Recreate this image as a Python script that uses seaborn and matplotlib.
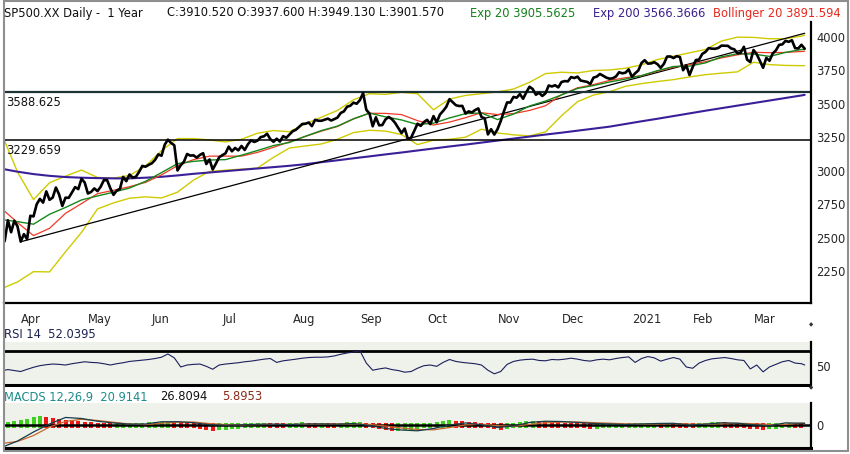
import numpy as np
import pandas as pd
import matplotlib
matplotlib.use("Agg")
import matplotlib.pyplot as plt
import seaborn as sns
from matplotlib.patches import Rectangle

sns.set_style("white")
plt.rcParams['font.family'] = ['DejaVu Sans']
plt.rcParams['font.size'] = 8

# ---------------- data ----------------
first_day, last_day = '2020-03-24', '2021-03-23'
market_holidays = ['2020-04-10', '2020-05-25', '2020-07-03', '2020-09-07', '2020-11-26',
                   '2020-12-25', '2021-01-01', '2021-01-18', '2021-02-15']

# daily closes, one per trading day
close = [
    2447, 2476, 2630, 2541, 2627, 2585,
    2471, 2527, 2489, 2664, 2659, 2750, 2790, 2762, 2846, 2783, 2800, 2875, 2823, 2737,
    2799, 2798, 2837, 2878, 2863, 2940, 2912,
    2830, 2842, 2868, 2848, 2881, 2930, 2930, 2870, 2820, 2852, 2864, 2954, 2922, 2972,
    2949, 2955, 2992, 3036, 3030, 3044,
    3056, 3081, 3122, 3112, 3194, 3232, 3207, 3190, 3002, 3041, 3067, 3125, 3113, 3115,
    3098, 3118, 3131, 3050, 3084, 3009, 3053, 3100,
    3116, 3130, 3180, 3145, 3170, 3152, 3185, 3155, 3197, 3227, 3215, 3225, 3251, 3257,
    3276, 3236, 3216, 3239, 3218, 3258, 3246, 3271,
    3295, 3306, 3327, 3349, 3351, 3360, 3333, 3380, 3373, 3373, 3381, 3389, 3375, 3385,
    3397, 3431, 3443, 3478, 3485, 3508, 3500,
    3527, 3580, 3455, 3427, 3332, 3399, 3339, 3341, 3383, 3401, 3385, 3357, 3319, 3281,
    3315, 3237, 3247, 3298, 3351, 3335, 3363,
    3380, 3348, 3408, 3361, 3419, 3446, 3477, 3534, 3512, 3489, 3483, 3484, 3427, 3443,
    3435, 3453, 3465, 3401, 3391, 3271, 3310, 3270,
    3310, 3370, 3443, 3510, 3509, 3551, 3545, 3572, 3537, 3585, 3627, 3610, 3567, 3582,
    3558, 3578, 3636, 3629, 3638, 3622,
    3662, 3669, 3667, 3699, 3692, 3702, 3673, 3668, 3663, 3647, 3695, 3702, 3722, 3709,
    3695, 3687, 3690, 3703, 3735, 3727, 3732, 3756,
    3701, 3727, 3748, 3804, 3825, 3799, 3801, 3810, 3795, 3768, 3798, 3852, 3853, 3841,
    3855, 3849, 3750, 3787, 3714,
    3774, 3826, 3830, 3872, 3887, 3915, 3911, 3910, 3916, 3934, 3933, 3932, 3913, 3906,
    3876, 3881, 3925, 3829, 3811,
    3901, 3870, 3820, 3768, 3842, 3821, 3875, 3898, 3939, 3943, 3969, 3962, 3974, 3915,
    3913, 3940, 3910.52,
]
last_open, last_high, last_low = 3937.600, 3949.130, 3901.570

# indicator lines, read every 5th trading day plus the last day
ema20 = [2636, 2620, 2601, 2675, 2726, 2782, 2812, 2840, 2871, 2921, 2986, 3053, 3070,
         3080, 3083, 3116, 3151, 3188, 3211, 3258, 3300, 3333, 3388, 3430, 3402, 3379,
         3345, 3355, 3394, 3426, 3431, 3382, 3423, 3483, 3520, 3566, 3614, 3636, 3662,
         3684, 3710, 3747, 3778, 3781, 3805, 3850, 3873, 3871, 3853, 3883, 3905, 3905.5625]
sma20 = [2719, 2613, 2516, 2570, 2682, 2755, 2829, 2854, 2881, 2913, 2969, 3038, 3083,
         3109, 3109, 3109, 3137, 3175, 3216, 3256, 3296, 3330, 3386, 3429, 3428, 3419,
         3374, 3341, 3363, 3396, 3433, 3419, 3426, 3450, 3485, 3567, 3619, 3643, 3674,
         3694, 3709, 3743, 3773, 3792, 3814, 3842, 3865, 3884, 3881, 3883, 3890, 3891.594]
boll_up = [3280, 2990, 2785, 2910, 2960, 3005, 2950, 2945, 2965, 3035, 3150, 3240, 3240,
           3230, 3215, 3235, 3280, 3300, 3291, 3350, 3400, 3450, 3530, 3575, 3570, 3585,
           3575, 3455, 3535, 3562, 3575, 3588, 3610, 3660, 3725, 3735, 3730, 3748, 3752,
           3765, 3790, 3830, 3855, 3880, 3905, 3968, 3997, 3995, 3985, 3985, 4005, 4012]
boll_dn = [2120, 2170, 2247, 2245, 2395, 2540, 2715, 2760, 2795, 2805, 2797, 2840, 2930,
           2995, 3004, 3012, 3020, 3100, 3170, 3185, 3200, 3235, 3285, 3302, 3296, 3270,
           3195, 3228, 3235, 3250, 3310, 3282, 3268, 3260, 3290, 3410, 3515, 3565, 3590,
           3630, 3650, 3666, 3680, 3700, 3717, 3728, 3738, 3810, 3792, 3786, 3784, 3784]
ema200 = [3015, 2993, 2975, 2962, 2953, 2948, 2945, 2943, 2943, 2948, 2955, 2965, 2977,
          2987, 2997, 3007, 3017, 3027, 3037, 3049, 3064, 3078, 3093, 3107, 3122, 3136,
          3151, 3166, 3181, 3195, 3210, 3225, 3240, 3255, 3270, 3284, 3299, 3314, 3329,
          3349, 3369, 3388, 3408, 3428, 3448, 3467, 3486, 3505, 3524, 3543, 3562, 3566.3666]

trend_dates = ['2020-04-01', '2021-03-23']
trend_vals = [2470, 4026]
levels = [3588.625, 3229.659]

# RSI 14, read every 2nd trading day plus the last day
rsi = [43, 45, 43.5, 42, 45.4, 48.5, 51, 52.5, 53.5, 53, 52, 54, 55.5, 57, 56,
       55.5, 54, 52, 54, 55.5, 57.5, 58.5, 59.5, 60.5, 62, 64, 69, 63, 49, 52,
       53, 53.5, 50, 45.5, 52, 53.5, 54.5, 55.5, 57, 58, 59.5, 61, 62, 56, 58.5,
       59.7, 61, 62.5, 63.5, 64, 64, 64.5, 66, 68.5, 70.5, 72, 74, 55, 44, 46,
       47.5, 45, 43.5, 41, 42, 47, 51, 52, 50, 56, 60.5, 57.5, 56, 55, 54,
       52, 44, 38.5, 42, 53, 57.5, 59.5, 60.5, 61, 59, 58.5, 60.5, 60, 61, 62.5,
       61, 59, 58, 60, 61, 60, 62, 63.5, 64.5, 56, 62, 65, 63, 58, 61,
       63.5, 61, 49, 47, 55, 59, 61.5, 62.5, 63.5, 62, 60, 59, 46, 52, 41.5,
       49, 53, 57, 59, 55, 54, 52.0395]

# MACD 12,26,9 lines (every 5th day plus last) and histogram (every 2nd day)
macd = [-258, -183, -78, 15, 91, 79, 47, 27, 13, 15, 41, 42, 30, 6, 1, 5, 12, 13, 9, 15,
        16, 13, 20, -2, -37, -55, -64, -37, 4, 27, 6, -26, -8, 33, 47, 44, 33, 21, 15, 9,
        15, 21, 23, 3, 13, 29, 24, 5, -5, 28, 24, 20.9141]
macd_signal = [-212, -188, -119, -20, 44, 70, 56, 35, 15, 8, 24, 36, 38, 20, 8, 5, 8, 11,
               10, 12, 15, 15, 16, 10, -8, -32, -49, -53, -26, 4, 12, -4, -12, 10, 29, 38,
               38, 31, 24, 17, 13, 15, 20, 15, 12, 18, 23, 18, 8, 10, 25, 26.8094]
macd_hist = [12, 17, 29, 41, 52, 70, 78, 70, 58, 49, 38, 30, 23, 16, 9,
             -3, -7, -9, -8, -6, -3, 0, 3, 7, 10, 13, 14, 12, 7, 2,
             -6, -17, -29, -35, -32, -26, -19, -12, -7, -2, 2, 6, 5, 1, -2,
             0, 3, 7, 6, 3, 5, 2, 0, 5, 9, 12, 14, 3, -9, -21,
             -30, -35, -35, -30, -23, -15, -6, 6, 17, 26, 30, 29, 23, 16, 9,
             2, -9, -21, -26, -19, -7, 7, 19, 26, 23, 19, 14, 9, 5, 0,
             -3, -8, -12, -12, -10, -9, -8, -7, -6, -5, 0, 5, 6, 5, 6,
             5, 1, -7, -10, -5, 2, 7, 10, 9, 6, 1, -5, -12, -19, -23,
             -21, -14, -5, 5, 3, -5]

month_labels = ['Apr', 'May', 'Jun', 'Jul', 'Aug', 'Sep', 'Oct', 'Nov', 'Dec', '2021', 'Feb', 'Mar']
price_ticks = [2250, 2500, 2750, 3000, 3250, 3500, 3750, 4000]

# ---------------- x positions: trading-day index ----------------
days = pd.bdate_range(first_day, last_day)
days = days[~days.isin(pd.to_datetime(market_holidays))]
x_all = np.arange(len(days))
ind_x = days.get_indexer(days[::5].append(days[-1:]))
rsi_x = days.get_indexer(days[::2].append(days[-1:]))
hist_x = days.get_indexer(days[::2])
trend_x = days.get_indexer(pd.to_datetime(trend_dates))
month_x = pd.Series(x_all, index=days).groupby(days.to_period('M')).first().values[1:]

# ---------------- figure layout (pixel boxes) ----------------
W, H = 850, 454
fig = plt.figure(figsize=(W / 100, H / 100), dpi=100)


def box(left, top, right, bottom):
    return [left / W, 1 - bottom / H, (right - left) / W, (bottom - top) / H]


ax = fig.add_axes(box(4, 22, 811, 303))
ax_rsi = fig.add_axes(box(4, 342, 811, 387))
ax_macd = fig.add_axes(box(4, 403, 811, 448))
xlim = (0.78, 252.97)
pale = '#eef2eb'

# ---------------- price panel ----------------
line_kw = dict(ax=ax, estimator=None, legend=False)
sns.lineplot(x=ind_x, y=boll_up, color='#cfcb00', lw=1.0, **line_kw)
sns.lineplot(x=ind_x, y=boll_dn, color='#cfcb00', lw=1.0, **line_kw)
sns.lineplot(x=ind_x, y=ema200, color='#3b1f98', lw=1.5, **line_kw)
sns.lineplot(x=trend_x, y=trend_vals, color='black', lw=0.9, **line_kw)
sns.lineplot(x=ind_x, y=sma20, color='#f03a26', lw=0.9, **line_kw)
sns.lineplot(x=ind_x, y=ema20, color='#15881a', lw=1.0, **line_kw)
ax.axhline(levels[0], color='#1d3434', lw=1.6)
ax.axhline(levels[1], color='black', lw=1.1)
for lv in levels:
    ax.annotate(f'{lv:.3f}', xy=(0, lv), xycoords=('axes fraction', 'data'),
                xytext=(1.5, -3), textcoords='offset points', va='top', ha='left',
                fontsize=8.3, color='#111111')
sns.lineplot(x=x_all, y=close, color='black', lw=1.9, **line_kw)

ax.set_xlim(*xlim)
ax.set_ylim(2013, 4110)
ax.yaxis.tick_right()
ax.set_yticks(price_ticks)
ax.set_yticklabels([str(t) for t in price_ticks], fontsize=8.3)
ax.tick_params(axis='y', length=0, pad=4)
ax.set_xticks(month_x)
ax.set_xticklabels(month_labels, ha='left', fontsize=8.3)
ax.tick_params(axis='x', direction='out', length=5, width=1.4, pad=2)
ax.set_xlabel('')
ax.set_ylabel('')
for s in ['left', 'top']:
    ax.spines[s].set_visible(False)
for s in ['right', 'bottom']:
    ax.spines[s].set_linewidth(1.6)
    ax.spines[s].set_color('black')

# ---------------- RSI panel ----------------
ax_rsi.set_facecolor(pale)
ax_rsi.axhline(73.4, color='black', lw=2.0)
ax_rsi.axhline(21.7, color='black', lw=2.2)
sns.lineplot(x=rsi_x, y=rsi, ax=ax_rsi, color='#1c1f5c', lw=0.8, estimator=None, legend=False)
ax_rsi.set_xlim(*xlim)
ax_rsi.set_ylim(18.2, 87.4)
ax_rsi.set_xticks([])
ax_rsi.yaxis.tick_right()
ax_rsi.set_yticks([50])
ax_rsi.set_yticklabels(['50'], fontsize=8.3)
ax_rsi.tick_params(axis='y', length=0, pad=4)
ax_rsi.set_xlabel('')
ax_rsi.set_ylabel('')
for s in ['left', 'top', 'bottom']:
    ax_rsi.spines[s].set_visible(False)
ax_rsi.spines['right'].set_linewidth(1.6)
ax_rsi.spines['right'].set_color('black')

# ---------------- MACD panel ----------------
ax_macd.set_facecolor(pale)
hist = np.array(macd_hist, dtype=float)
rising = np.diff(hist, prepend=hist[0]) >= 0
bar_pad = 26  # bars in the reference poke a little past the thick zero line
lo = np.minimum(hist, 0) - bar_pad
hi = np.maximum(hist, 0) + bar_pad
ax_macd.bar(hist_x, hi - lo, bottom=lo, width=1.25,
            color=np.where(rising, '#3fcf1f', '#f01616'), linewidth=0)
ax_macd.axhline(0, color='black', lw=1.8)
sns.lineplot(x=ind_x, y=macd_signal, ax=ax_macd, color='#c8662e', lw=0.9, estimator=None, legend=False)
sns.lineplot(x=ind_x, y=macd, ax=ax_macd, color='#163b47', lw=0.9, estimator=None, legend=False)
ax_macd.set_xlim(*xlim)
ax_macd.set_ylim(-264, 259)
ax_macd.set_xticks([])
ax_macd.yaxis.tick_right()
ax_macd.set_yticks([0])
ax_macd.set_yticklabels(['0'], fontsize=8.3)
ax_macd.tick_params(axis='y', length=0, pad=4)
ax_macd.set_xlabel('')
ax_macd.set_ylabel('')
for s in ['left', 'top']:
    ax_macd.spines[s].set_visible(False)
ax_macd.spines['right'].set_linewidth(1.6)
ax_macd.spines['bottom'].set_linewidth(2.2)
ax_macd.spines['right'].set_color('black')
ax_macd.spines['bottom'].set_color('black')

# ---------------- header texts ----------------
def put(xp, yp, txt, color):
    fig.text(xp / W, 1 - yp / H, txt, color=color, fontsize=8.3, ha='left', va='center')


put(4, 13, 'SP500.XX Daily -  1 Year', '#111111')
put(167, 13, f'C:{close[-1]:.3f} O:{last_open:.3f} H:{last_high:.3f} L:{last_low:.3f}', '#111111')
put(470, 13, f'Exp 20 {ema20[-1]:.4f}', '#14801a')
put(593, 13, f'Exp 200 {ema200[-1]:.4f}', '#3a1f8e')
put(713, 13, f'Bollinger 20 {sma20[-1]:.3f}', '#e8281c')
put(4, 335, f'RSI 14  {rsi[-1]:.4f}', '#1c2250')
put(4, 397, f'MACDS 12,26,9  {macd[-1]:.4f}', '#1c8c8c')
put(160, 397, f'{macd_signal[-1]:.4f}', '#111111')
put(222, 397, f'{abs(macd[-1] - macd_signal[-1]):.4f}', '#8a2c16')
for yp in (325, 388):
    fig.text(811 / W, 1 - yp / H, '\u25c6', fontsize=4, color='#333333', ha='center', va='center')

fig.patches.append(Rectangle((3.5 / W, 3 / H), 844.5 / W, 450 / H, transform=fig.transFigure,
                             fill=False, edgecolor='#8f8f8f', lw=1.5))

fig.savefig('out.png', dpi=100)
